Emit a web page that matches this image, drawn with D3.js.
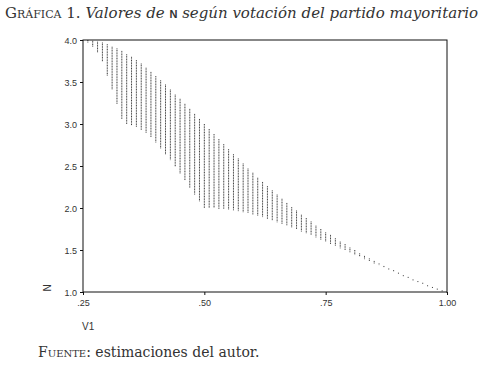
<!DOCTYPE html>
<html>
<head>
<meta charset="utf-8">
<script src="https://cdn.jsdelivr.net/npm/d3@7"></script>
<style>
  body { margin: 0; background: #fff; }
  svg { display: block; }
</style>
</head>
<body>
<div id="chart"></div>
<script>
const width = 488;
const height = 372;

// share of the largest party (one column of points per value)
const v1Values = [0.26, 0.27, 0.28, 0.29, 0.30, 0.31, 0.32, 0.33, 0.34, 0.35,
  0.36, 0.37, 0.38, 0.39, 0.40, 0.41, 0.42, 0.43, 0.44, 0.45,
  0.46, 0.47, 0.48, 0.49, 0.50, 0.51, 0.52, 0.53, 0.54, 0.55,
  0.56, 0.57, 0.58, 0.59, 0.60, 0.61, 0.62, 0.63, 0.64, 0.65,
  0.66, 0.67, 0.68, 0.69, 0.70, 0.71, 0.72, 0.73, 0.74, 0.75,
  0.76, 0.77, 0.78, 0.79, 0.80, 0.81, 0.82, 0.83, 0.84, 0.85,
  0.86, 0.87, 0.88, 0.89, 0.90, 0.91, 0.92, 0.93, 0.94, 0.95,
  0.96, 0.97, 0.98, 0.99, 1.00];

// top of each column of N
const nMax = [4.00, 3.99, 3.98, 3.97, 3.95, 3.92, 3.90, 3.87, 3.83, 3.80,
  3.76, 3.72, 3.67, 3.62, 3.57, 3.52, 3.47, 3.41, 3.35, 3.30,
  3.24, 3.18, 3.12, 3.06, 3.00, 2.94, 2.88, 2.82, 2.76, 2.70,
  2.64, 2.59, 2.53, 2.47, 2.42, 2.36, 2.31, 2.26, 2.21, 2.16,
  2.11, 2.06, 2.01, 1.97, 1.92, 1.88, 1.84, 1.79, 1.75, 1.71,
  1.68, 1.64, 1.60, 1.57, 1.53, 1.50, 1.46, 1.43, 1.40, 1.37,
  1.34, 1.31, 1.28, 1.26, 1.23, 1.20, 1.18, 1.15, 1.13, 1.11,
  1.08, 1.06, 1.04, 1.02, 1.00];

// bottom of each column of N
const nMin = [3.97, 3.92, 3.85, 3.74, 3.57, 3.41, 3.24, 3.06, 3.00, 2.98,
  2.96, 2.93, 2.89, 2.84, 2.78, 2.71, 2.64, 2.57, 2.49, 2.41,
  2.33, 2.24, 2.16, 2.08, 2.00, 2.00, 2.00, 1.99, 1.99, 1.98,
  1.97, 1.96, 1.95, 1.94, 1.92, 1.91, 1.89, 1.87, 1.85, 1.83,
  1.81, 1.79, 1.77, 1.75, 1.72, 1.70, 1.68, 1.65, 1.62, 1.60,
  1.57, 1.55, 1.52, 1.50, 1.47, 1.44, 1.42, 1.39, 1.37, 1.34,
  1.32, 1.29, 1.27, 1.24, 1.22, 1.20, 1.17, 1.15, 1.13, 1.10,
  1.08, 1.06, 1.04, 1.02, 1.00];

const xTicks = [0.25, 0.50, 0.75, 1.00];
const xTickLabels = [".25", ".50", ".75", "1.00"];
const yTicks = [1.0, 1.5, 2.0, 2.5, 3.0, 3.5, 4.0];

const margin = {top: 40, right: 41, bottom: 80, left: 83};
const plotW = width - margin.left - margin.right;
const plotH = height - margin.top - margin.bottom;

const svg = d3.select("#chart")
  .append("svg")
  .attr("width", width)
  .attr("height", height);

const x = d3.scaleLinear().domain([0.25, 1.00]).range([0, plotW]);
const y = d3.scaleLinear().domain([1.0, 4.0]).range([plotH, 0]);

const g = svg.append("g")
  .attr("transform", `translate(${margin.left},${margin.top})`);

// columns of points
const cols = v1Values.map((v, i) => ({v1: v, lo: nMin[i], hi: nMax[i]}));

g.append("g")
  .selectAll("line")
  .data(cols)
  .enter()
  .append("line")
  .attr("x1", d => x(d.v1))
  .attr("x2", d => x(d.v1))
  .attr("y1", d => y(d.hi))
  .attr("y2", d => Math.max(y(d.lo), y(d.hi) + 1.2))
  .attr("stroke", "#3a3a3a")
  .attr("stroke-width", 1)
  .attr("stroke-dasharray", "1,0.6");

// frame
g.append("rect")
  .attr("width", plotW)
  .attr("height", plotH)
  .attr("fill", "none")
  .attr("stroke", "#111")
  .attr("stroke-width", 1);

// axes
const yAxis = g.append("g")
  .call(d3.axisLeft(y).tickValues(yTicks).tickSize(3).tickFormat(d3.format(".1f")));

const xAxis = g.append("g")
  .attr("transform", `translate(0,${plotH})`)
  .call(d3.axisBottom(x).tickValues(xTicks).tickSize(3)
    .tickFormat((d, i) => xTickLabels[i]));

[yAxis, xAxis].forEach(a => {
  a.select(".domain").remove();
  a.selectAll(".tick line").attr("stroke", "#111");
  a.selectAll("text")
    .attr("fill", "#333")
    .style("font-family", "'Liberation Sans', Arial, sans-serif")
    .style("font-size", "9px");
});
yAxis.selectAll("text").attr("dy", "0.35em");
xAxis.selectAll("text").attr("dy", "0.9em");

// axis titles
svg.append("text")
  .attr("transform", "translate(51,288) rotate(-90)")
  .attr("text-anchor", "middle")
  .style("font-family", "'Liberation Sans', Arial, sans-serif")
  .style("font-size", "10px")
  .attr("fill", "#333")
  .text("N");

svg.append("text")
  .attr("x", 82)
  .attr("y", 330)
  .style("font-family", "'Liberation Sans', Arial, sans-serif")
  .style("font-size", "10px")
  .attr("fill", "#333")
  .text("V1");

// title
const title = svg.append("text")
  .attr("x", 5)
  .attr("y", 18)
  .style("font-family", "'DejaVu Serif', 'Liberation Serif', serif")
  .style("font-size", "15px")
  .attr("fill", "#333");
title.append("tspan")
  .style("font-variant", "small-caps")
  .text("Gráfica 1. ");
title.append("tspan")
  .style("font-style", "italic")
  .text("Valores de ");
title.append("tspan")
  .style("font-family", "'Liberation Sans', Arial, sans-serif")
  .style("font-weight", "bold")
  .style("font-size", "11px")
  .text("N");
title.append("tspan")
  .style("font-style", "italic")
  .text(" según votación del partido mayoritario");

// source note
const note = svg.append("text")
  .attr("x", 38)
  .attr("y", 357)
  .style("font-family", "'DejaVu Serif', 'Liberation Serif', serif")
  .style("font-size", "14px")
  .attr("fill", "#333");
note.append("tspan")
  .style("font-variant", "small-caps")
  .text("Fuente:");
note.append("tspan")
  .text(" estimaciones del autor.");
</script>
</body>
</html>
